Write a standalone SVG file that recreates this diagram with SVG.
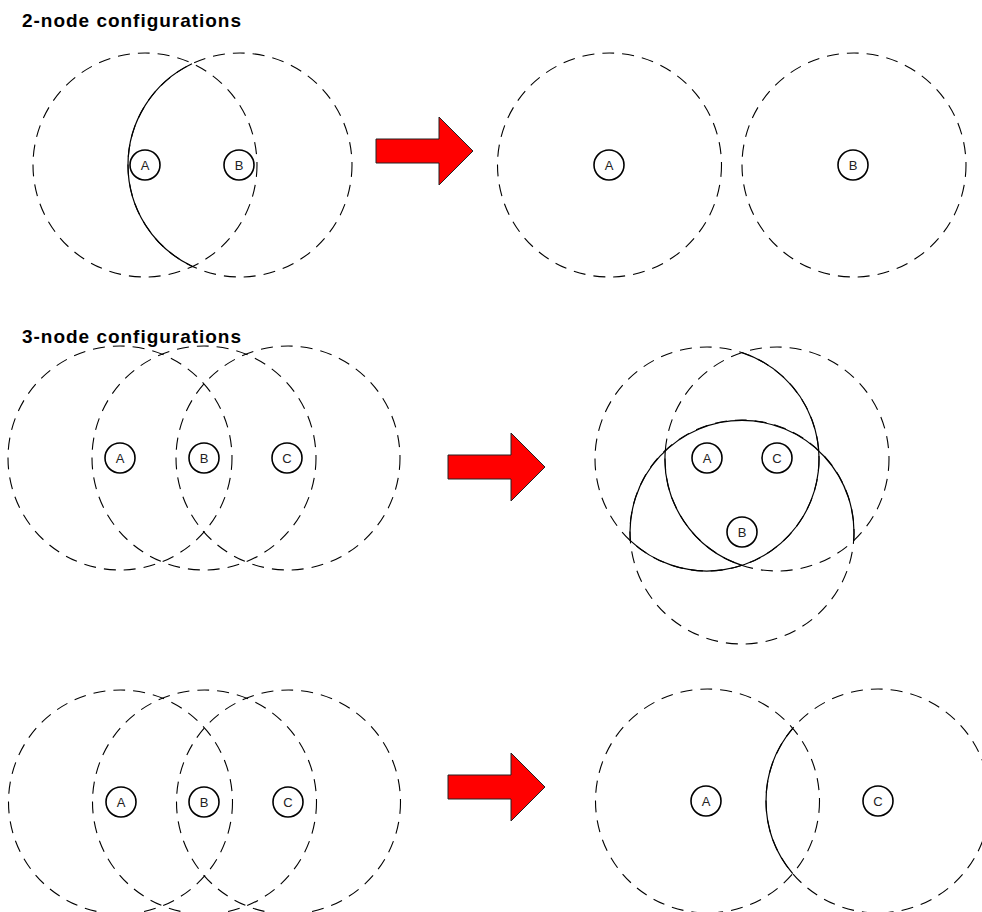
<svg xmlns="http://www.w3.org/2000/svg" width="982" height="912" viewBox="0 0 982 912">
  <defs>
    <style>
      .title { font-family: "Liberation Sans", Arial, sans-serif; font-weight: bold; font-size: 19px; fill: #000; }
      .range { fill: none; stroke: #000; stroke-width: 1.1; stroke-dasharray: 12 8; }
      .edge { fill: none; stroke: #000; stroke-width: 1.2; }
      .node circle { fill: #fff; stroke: #000; stroke-width: 1.6; }
      .node text { font-family: "Liberation Sans", Arial, sans-serif; font-size: 13px; fill: #222; text-anchor: middle; dominant-baseline: central; }
      .move { fill: #ff0000; stroke: #222; stroke-width: 1; stroke-linejoin: miter; }
    </style>
    <!-- block arrow, origin at the left end of its shaft centre line -->
    <path id="bigArrow" d="M0,-12 H63 V-34 L97,0 L63,34 V12 H0 Z"/>
  </defs>

  <rect width="982" height="912" fill="#fff"/>

  <text class="title" x="22" y="27" textLength="219" lengthAdjust="spacing">2-node configurations</text>
  <text class="title" x="22" y="343" textLength="219" lengthAdjust="spacing">3-node configurations</text>

  <!-- radio ranges -->
  <g id="ranges-2node-before">
    <circle class="range" cx="145" cy="165" r="112"/>
    <circle class="range" cx="240" cy="165" r="112"/>
    <path class="edge" d="M192,63.8 A112,112 0 0 0 192,266.2"/>
  </g>
  <g id="ranges-2node-after">
    <circle class="range" cx="609.5" cy="165" r="112"/>
    <circle class="range" cx="854" cy="165" r="112"/>
  </g>
  <g id="ranges-3node-before-1">
    <circle class="range" cx="120" cy="458" r="112"/>
    <circle class="range" cx="204" cy="458" r="112"/>
    <circle class="range" cx="288" cy="458" r="112"/>
  </g>
  <g id="ranges-3node-after-1">
    <circle class="range" cx="707" cy="459" r="112"/>
    <circle class="range" cx="742" cy="532" r="112"/>
    <circle class="range" cx="777" cy="459" r="112"/>
    <path class="edge" d="M742,352.6 A112,112 0 1 1 630.3,540.6"/>
    <path class="edge" d="M630.3,540.6 A112,112 0 1 1 853.7,540.7"/>
    <path class="edge" d="M665.3,450.4 A112,112 0 0 0 742,565.4"/>
  </g>
  <g id="ranges-3node-before-2">
    <circle class="range" cx="120.5" cy="802" r="112"/>
    <circle class="range" cx="204.5" cy="802" r="112"/>
    <circle class="range" cx="288.5" cy="802" r="112"/>
  </g>
  <g id="ranges-3node-after-2">
    <circle class="range" cx="707.5" cy="801" r="112"/>
    <circle class="range" cx="878" cy="801" r="112"/>
    <path class="edge" d="M792.75,728.4 A112,112 0 0 0 792.75,873.6"/>
  </g>

  <!-- transitions -->
  <g id="connectors">
    <use href="#bigArrow" class="move" x="376" y="151"/>
    <use href="#bigArrow" class="move" x="448" y="467"/>
    <use href="#bigArrow" class="move" x="448" y="787"/>
  </g>

  <!-- nodes -->
  <g id="n2a-A" class="node"><circle cx="145" cy="165" r="15"/><text x="145" y="165">A</text></g>
  <g id="n2a-B" class="node"><circle cx="239" cy="165" r="15"/><text x="239" y="165">B</text></g>
  <g id="n2b-A" class="node"><circle cx="609" cy="165" r="15"/><text x="609" y="165">A</text></g>
  <g id="n2b-B" class="node"><circle cx="853" cy="165" r="15"/><text x="853" y="165">B</text></g>

  <g id="n3a-A" class="node"><circle cx="120" cy="458" r="15"/><text x="120" y="458">A</text></g>
  <g id="n3a-B" class="node"><circle cx="204" cy="458" r="15"/><text x="204" y="458">B</text></g>
  <g id="n3a-C" class="node"><circle cx="287" cy="458" r="15"/><text x="287" y="458">C</text></g>
  <g id="n3b-A" class="node"><circle cx="707" cy="458" r="15"/><text x="707" y="458">A</text></g>
  <g id="n3b-C" class="node"><circle cx="777" cy="458" r="15"/><text x="777" y="458">C</text></g>
  <g id="n3b-B" class="node"><circle cx="742" cy="532" r="15"/><text x="742" y="532">B</text></g>

  <g id="n3c-A" class="node"><circle cx="121" cy="802" r="15"/><text x="121" y="802">A</text></g>
  <g id="n3c-B" class="node"><circle cx="204" cy="802" r="15"/><text x="204" y="802">B</text></g>
  <g id="n3c-C" class="node"><circle cx="288" cy="802" r="15"/><text x="288" y="802">C</text></g>
  <g id="n3d-A" class="node"><circle cx="706" cy="801" r="15"/><text x="706" y="801">A</text></g>
  <g id="n3d-C" class="node"><circle cx="878" cy="801" r="15"/><text x="878" y="801">C</text></g>
</svg>
